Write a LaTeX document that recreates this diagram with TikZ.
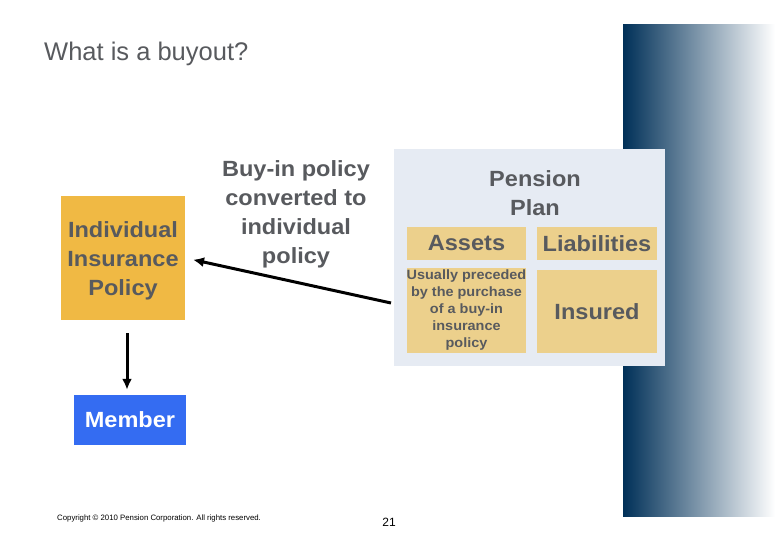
\documentclass[tikz,border=0pt]{standalone}
\usepackage{fontspec}
\setmainfont{Liberation Sans}[BoldFeatures={FakeStretch=1.07}]
\usetikzlibrary{arrows.meta}

\definecolor{txtgray}{RGB}{88,90,94}
\definecolor{plangray}{RGB}{230,235,243}
\definecolor{tan}{RGB}{236,208,140}
\definecolor{gold}{RGB}{240,185,68}
\definecolor{memblue}{RGB}{52,108,242}
\definecolor{navy}{RGB}{0,48,88}
\definecolor{navymid}{RGB}{92,122,158}

\newcommand{\bigbold}{\fontsize{22}{29}\selectfont\bfseries}
\newcommand{\smallbold}{\fontsize{13.5}{17}\selectfont\bfseries}

\tikzset{
  box/.style={inner sep=0pt, align=center, text=txtgray, font=\bigbold},
  tanbox/.style={box, fill=tan},
  bigarrow/.style={line width=3pt, -{Latex[length=11pt,width=10pt]}}
}

\begin{document}
\begin{tikzpicture}[x=1pt,y=-1pt]
\useasboundingbox[fill=white] (0,0) rectangle (780,540);
% the title
\node[anchor=base west, text=txtgray, font=\fontsize{25.5}{30}\selectfont, inner sep=0pt] (title) at (44,61) {What is a buyout?};
% the shaded band on the right
\shade[left color=navy, middle color=navymid, right color=white] (623,25) rectangle (775,516);
% the pension plan
\node[box, fill=plangray, minimum width=271pt, minimum height=217pt] (plan) at (529.5,257.5) {};
\node[box] (plantitle) at (535,193.5) {Pension\\Plan};
\node[tanbox, minimum width=119pt, minimum height=33pt] (assets) at (466.5,243.5) {Assets};
\node[tanbox, minimum width=120pt, minimum height=33pt] (liab) at (597,243.5) {Liabilities};
\node[tanbox, minimum width=119pt, minimum height=85pt, font=\smallbold] (preceded) at (466.5,310.5)
  {Usually preceded\\by the purchase\\of a buy-in\\insurance\\policy};
\node[tanbox, minimum width=120pt, minimum height=83pt] (insured) at (597,311.5) {Insured};
% the individual policy and the member
\node[box, fill=gold, minimum width=124pt, minimum height=124pt] (ind) at (123,258) {};
\node[box] (indtext) at (123,261) {Individual\\Insurance\\Policy};
\node[box, fill=memblue, text=white, minimum width=112pt, minimum height=50pt] (member) at (130,420) {Member};
% the text over the arrow
\node[box] (buyin) at (296,214.5) {Buy-in policy\\converted to\\individual\\policy};
% the arrows
\coordinate (tail) at (391,303);
\draw[bigarrow, shorten >=8pt] (tail) -- (ind.east);
\draw[bigarrow, shorten <=13pt, shorten >=5pt] (ind.south -| 127,0) -- (member.north -| 127,0);
% the footer
\node[anchor=base west, inner sep=0pt, font=\fontsize{7.8}{9}\selectfont] (copy) at (57,520) {Copyright \textcopyright\ 2010 Pension Corporation. All rights reserved.};
\node[anchor=base, inner sep=0pt, font=\fontsize{12}{14}\selectfont] (page) at (389,526) {21};
\end{tikzpicture}
\end{document}
